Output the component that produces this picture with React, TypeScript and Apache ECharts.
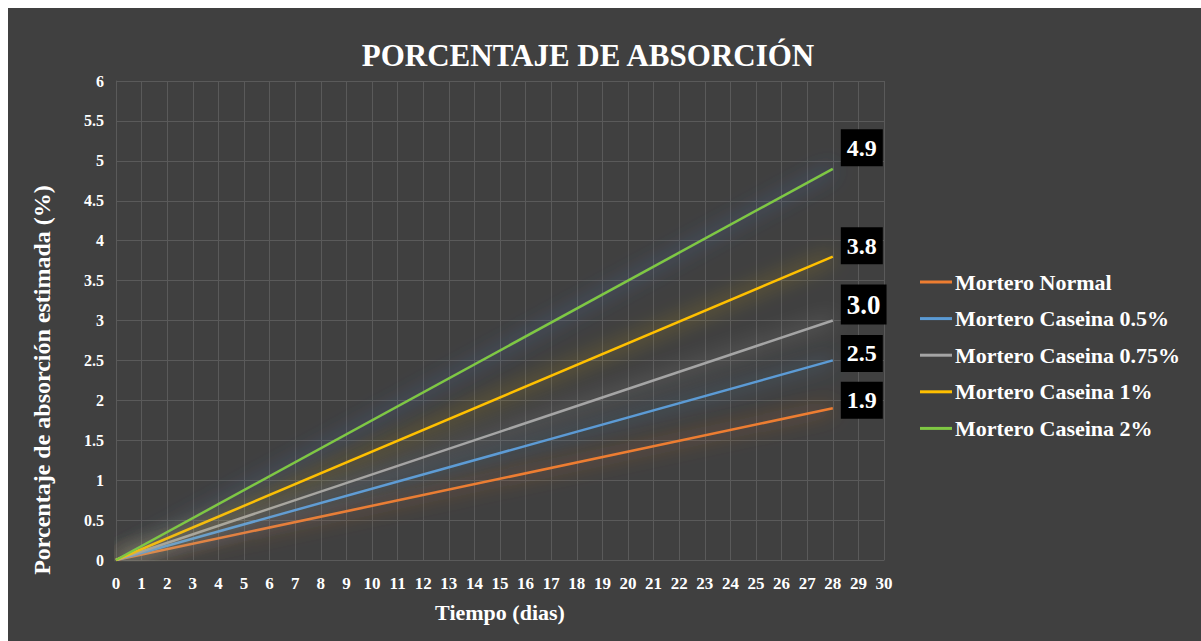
import React, { useEffect, useRef } from "react";
import * as echarts from "echarts";

// Días de ensayo (eje X) y porcentaje estimado a los 28 días por mezcla
const days = [0, 28];
const seriesNames = [
  "Mortero Normal",
  "Mortero Caseina 0.5%",
  "Mortero Caseina 0.75%",
  "Mortero Caseina 1%",
  "Mortero Caseina 2%",
];
const startValues = [0, 0, 0, 0, 0];
const endValues = [1.9, 2.5, 3.0, 3.8, 4.9];
const endLabels = ["1.9", "2.5", "3.0", "3.8", "4.9"];
const lineColors = ["#ED7D31", "#5B9BD5", "#A5A5A5", "#FFC000", "#7FC843"];
const glowColors = [
  "rgba(237,125,49,0.9)",
  "rgba(91,155,213,0.9)",
  "rgba(200,200,200,0.8)",
  "rgba(255,200,0,0.85)",
  "rgba(80,130,220,0.95)",
];
const labelFontSizes = [24, 24, 27, 24, 24];
const labelOffsets = [-8, -7, -16, -11, -21];

const FONT = "'Liberation Serif', 'Times New Roman', serif";

export default function App() {
  const ref = useRef<HTMLDivElement>(null);

  useEffect(() => {
    if (!ref.current) return;
    const chart = echarts.init(ref.current, null, { renderer: "svg" });

    const series = seriesNames.map((name, i) => ({
      name,
      type: "line",
      data: [
        [days[0], startValues[i]],
        [days[1], endValues[i]],
      ],
      showSymbol: false,
      symbol: "none",
      color: lineColors[i],
      lineStyle: {
        width: 2.5,
        color: lineColors[i],
        shadowBlur: 20,
        shadowColor: glowColors[i],
      },
      endLabel: {
        show: true,
        formatter: () => endLabels[i],
        backgroundColor: "#000000",
        color: "#ffffff",
        fontFamily: FONT,
        fontWeight: "bold",
        fontSize: labelFontSizes[i],
        lineHeight: labelFontSizes[i],
        padding: [7, 6, 6, 6],
        distance: 8,
        offset: [0, labelOffsets[i]],
      },
      z: 2 + i,
    }));

    chart.setOption({
      animation: false,
      backgroundColor: "#404040",
      textStyle: { fontFamily: FONT },
      grid: { left: 108, top: 73, width: 768, height: 479 },
      legend: {
        orient: "vertical",
        left: 912,
        top: 263,
        padding: 0,
        icon: "rect",
        itemWidth: 32,
        itemHeight: 3,
        itemGap: 14.6,
        textStyle: {
          color: "#ffffff",
          fontFamily: FONT,
          fontWeight: "bold",
          fontSize: 22,
          lineHeight: 22,
          padding: [0, 0, 0, -2],
        },
        data: seriesNames,
      },
      xAxis: {
        type: "value",
        min: 0,
        max: 30,
        interval: 1,
        name: "Tiempo (dias)",
        nameLocation: "middle",
        nameGap: 41,
        nameTextStyle: {
          color: "#ffffff",
          fontFamily: FONT,
          fontWeight: "bold",
          fontSize: 22,
        },
        axisLine: { show: true, lineStyle: { color: "#5a5a5a", width: 1 } },
        axisTick: { show: false },
        axisLabel: {
          color: "#ffffff",
          fontFamily: FONT,
          fontWeight: "bold",
          fontSize: 17,
          margin: 15,
        },
        splitLine: { show: true, lineStyle: { color: "#5a5a5a", width: 1 } },
      },
      yAxis: {
        type: "value",
        min: 0,
        max: 6,
        interval: 0.5,
        axisLine: { show: true, lineStyle: { color: "#5a5a5a", width: 1 } },
        axisTick: { show: false },
        axisLabel: {
          color: "#ffffff",
          fontFamily: FONT,
          fontWeight: "bold",
          fontSize: 16,
          margin: 12,
        },
        splitLine: { show: true, lineStyle: { color: "#5a5a5a", width: 1 } },
      },
      graphic: [
        {
          type: "text",
          x: 580,
          y: 47,
          style: {
            text: "PORCENTAJE DE ABSORCIÓN",
            fill: "#ffffff",
            font: `bold 31px ${FONT}`,
            textAlign: "center",
            textVerticalAlign: "middle",
          },
        },
        {
          type: "text",
          x: 34,
          y: 372,
          rotation: Math.PI / 2,
          style: {
            text: "Porcentaje de absorción estimada (%)",
            fill: "#ffffff",
            font: `bold 24px ${FONT}`,
            textAlign: "center",
            textVerticalAlign: "middle",
          },
        },
      ],
      series,
    });

    return () => chart.dispose();
  }, []);

  return (
    <div
      ref={ref}
      style={{ position: "absolute", left: 8, top: 8, width: 1193, height: 633 }}
    />
  );
}
